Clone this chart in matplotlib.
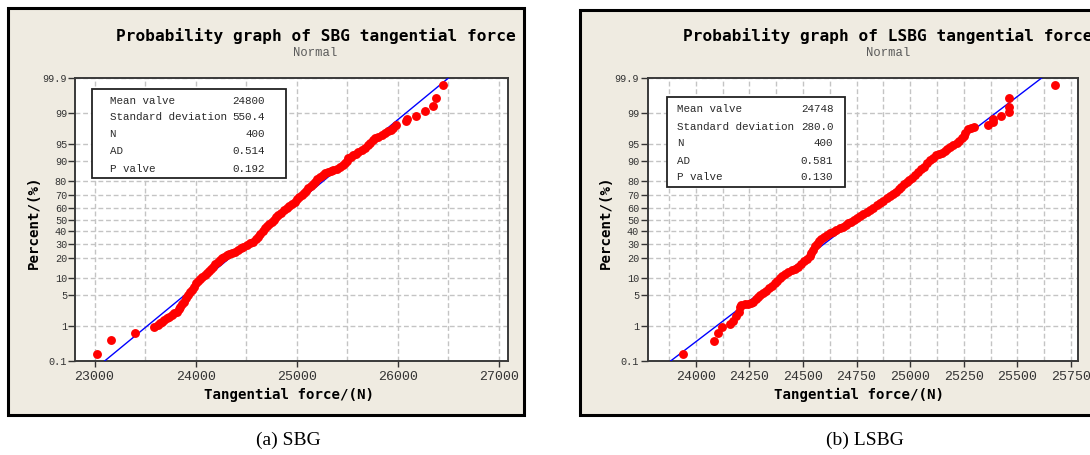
import numpy as np
import matplotlib
matplotlib.use('Agg')
import matplotlib.pyplot as plt
from matplotlib.patches import Rectangle
from matplotlib.ticker import MultipleLocator, FixedLocator, FixedFormatter
from statistics import NormalDist

plt.rcParams['font.family'] = 'Liberation Mono'

# Data (force in N, cumulative percent)
sbg_force = [23023, 23161, 23402, 23584, 23627, 23646, 23666, 23691, 23716, 23740,
             23765, 23790, 23815, 23831, 23847, 23864, 23881, 23902, 23923, 23943,
             23963, 23983, 24003, 24024, 24045, 24066, 24088, 24109, 24131, 24152,
             24174, 24196, 24218, 24240, 24262, 24285, 24307, 24334, 24362, 24389,
             24416, 24444, 24471, 24504, 24537, 24570, 24595, 24619, 24641, 24664,
             24686, 24708, 24730, 24752, 24774, 24795, 24817, 24845, 24872, 24900,
             24927, 24955, 24982, 25004, 25027, 25049, 25071, 25092, 25114, 25136,
             25159, 25181, 25205, 25230, 25255, 25280, 25307, 25335, 25362, 25395,
             25428, 25453, 25478, 25494, 25510, 25535, 25560, 25585, 25609, 25642,
             25675, 25700, 25725, 25750, 25774, 25808, 25841, 25874, 25906, 25928,
             25950, 25982, 26081, 26094, 26177, 26269, 26345, 26378, 26450]
sbg_percent = [0.17, 0.43, 0.67, 0.93, 1.06, 1.17, 1.28, 1.41, 1.55, 1.70,
               1.85, 2.03, 2.21, 2.51, 2.85, 3.22, 3.63, 4.27, 4.97, 5.55,
               6.19, 7.1, 8.18, 8.85, 9.58, 10.35, 11.15, 12.0, 13.0, 14.0,
               15.1, 16.3, 17.5, 18.8, 19.8, 20.8, 21.9, 22.6, 23.3, 24.1,
               25.2, 26.4, 27.6, 28.8, 30.1, 31.4, 33.4, 35.4, 37.7, 40.0,
               42.4, 44.3, 46.2, 48.1, 50.0, 52.0, 53.9, 55.8, 57.8, 59.7,
               61.5, 63.3, 65.1, 66.9, 68.6, 70.4, 72.0, 73.6, 75.2, 76.7,
               78.1, 79.5, 81.0, 82.5, 83.5, 84.4, 85.0, 85.5, 86.0, 86.7,
               87.3, 88.2, 89.0, 90.0, 90.9, 91.5, 92.0, 92.5, 93.0, 93.6,
               94.1, 94.7, 95.2, 95.8, 96.3, 96.5, 96.7, 97.0, 97.3, 97.5,
               97.75, 98.05, 98.4, 98.57, 98.83, 99.11, 99.34, 99.59, 99.83]

lsbg_force = [23941, 24084, 24104, 24121, 24161, 24176, 24190, 24201, 24208, 24211,
              24228, 24244, 24256, 24267, 24279, 24291, 24302, 24314, 24328, 24342,
              24356, 24370, 24381, 24393, 24404, 24416, 24432, 24449, 24463, 24477,
              24491, 24505, 24518, 24531, 24539, 24547, 24557, 24566, 24575, 24584,
              24598, 24612, 24626, 24640, 24656, 24673, 24686, 24699, 24712, 24725,
              24738, 24751, 24767, 24782, 24798, 24813, 24829, 24844, 24860, 24875,
              24891, 24905, 24920, 24934, 24947, 24959, 24972, 24984, 24997, 25009,
              25023, 25037, 25051, 25065, 25079, 25093, 25107, 25121, 25135, 25149,
              25161, 25174, 25186, 25202, 25217, 25229, 25241, 25249, 25256, 25271,
              25285, 25298, 25365, 25385, 25388, 25423, 25461, 25461, 25460, 25676]
lsbg_percent = [0.17, 0.40, 0.65, 0.92, 1.12, 1.37, 1.76, 2.21, 2.81, 3.10,
                3.2, 3.3, 3.45, 3.63, 4.05, 4.53, 5.0, 5.50, 6.05, 6.65,
                7.4, 8.29, 9.05, 9.89, 10.7, 11.5, 12.4, 13.3, 14.2, 15.2,
                16.5, 18.0, 19.6, 21.3, 23.4, 25.6, 27.8, 30.0, 32.0, 33.9,
                35.3, 36.8, 38.0, 39.2, 40.8, 42.4, 43.8, 45.3, 46.7, 48.1,
                49.6, 51.0, 52.7, 54.4, 56.1, 58.2, 60.3, 62.4, 64.2, 66.0,
                67.7, 69.5, 71.2, 72.9, 74.6, 76.2, 77.8, 79.3, 80.7, 82.0,
                83.6, 85.0, 86.4, 87.6, 89.0, 90.3, 91.2, 92.0, 92.4, 92.8,
                93.3, 93.8, 94.3, 94.8, 95.2, 95.7, 96.2, 96.6, 97.0, 97.6,
                97.75, 97.86, 98.05, 98.36, 98.59, 98.83, 99.07, 99.31, 99.59, 99.83]

stat_names = ['Mean valve', 'Standard deviation', 'N', 'AD', 'P valve']
sbg_stat_values = ['24800', '550.4', '400', '0.514', '0.192']
lsbg_stat_values = ['24748', '280.0', '400', '0.581', '0.130']
sbg_mean, sbg_sd = 24800, 550.4
lsbg_mean, lsbg_sd = 24748, 280.0

percent_ticks = [0.1, 1, 5, 10, 20, 30, 40, 50, 60, 70, 80, 90, 95, 99, 99.9]
percent_labels = ['0.1', '1', '5', '10', '20', '30', '40', '50', '60', '70',
                  '80', '90', '95', '99', '99.9']

# normal probability scale
nd = NormalDist()
_ppf = np.vectorize(nd.inv_cdf, otypes=[float])
_cdf = np.vectorize(nd.cdf, otypes=[float])


def forward(p):
    p = np.clip(np.asarray(p, dtype=float) / 100.0, 1e-9, 1 - 1e-9)
    return _ppf(p)


def inverse(z):
    return _cdf(np.asarray(z, dtype=float)) * 100.0


W, H = 1090, 455
fig = plt.figure(figsize=(W / 100, H / 100), dpi=100)
fig.patch.set_facecolor('white')


def fx(x):
    return x / W


def fy(y):
    return 1 - y / H


def draw_panel(box, axbox, xlim, major, minor, force, percent, mean, sd,
               title, title_x, stat_values, statbox, label_x, value_x, rows,
               ylabel_x, xlabel_x, caption, caption_x):
    # beige panel with black frame
    bx0, by0, bx1, by1 = box
    fig.add_artist(Rectangle((fx(bx0), fy(by1)), (bx1 - bx0) / W, (by1 - by0) / H,
                             transform=fig.transFigure, facecolor='#efebe1',
                             edgecolor='black', linewidth=2.2, zorder=-5))

    ax0, ay0, ax1, ay1 = axbox
    ax = fig.add_axes([fx(ax0), fy(ay1), (ax1 - ax0) / W, (ay1 - ay0) / H])
    ax.set_facecolor('white')
    ax.set_yscale('function', functions=(forward, inverse))
    ax.set_ylim(0.1, 99.9)
    ax.set_xlim(*xlim)

    ax.yaxis.set_major_locator(FixedLocator(percent_ticks))
    ax.yaxis.set_major_formatter(FixedFormatter(percent_labels))
    ax.yaxis.set_minor_locator(FixedLocator([]))
    ax.xaxis.set_major_locator(MultipleLocator(major))
    ax.xaxis.set_minor_locator(MultipleLocator(minor))

    grid_kw = dict(color='#c4c4c4', linewidth=1.0, linestyle=(0, (3.5, 2)))
    ax.grid(True, axis='x', which='both', **grid_kw)
    ax.grid(True, axis='y', which='major', **grid_kw)
    ax.set_axisbelow(True)

    ax.tick_params(axis='y', which='major', length=5, width=1, color='#333333',
                   labelsize=7.3, labelcolor='#333333', pad=1)
    ax.tick_params(axis='x', which='major', length=4, width=1, color='#333333',
                   labelsize=9.5, labelcolor='#333333', pad=3)
    ax.tick_params(axis='x', which='minor', length=0)
    for sp in ax.spines.values():
        sp.set_color('#3a3a3a')
        sp.set_linewidth(1.4)

    # fitted normal line
    line_pct = np.array([0.1, 99.9])
    line_force = mean + sd * forward(line_pct)
    ax.plot(line_force, line_pct, color='#0000ff', linewidth=1.0, zorder=3)
    ax.plot(force, percent, 'o', color='#ff0000', markersize=6.4,
            markeredgewidth=0, zorder=4)

    # statistics box
    sx0, sy0, sx1, sy1 = statbox
    fig.add_artist(Rectangle((fx(sx0), fy(sy1)), (sx1 - sx0) / W, (sy1 - sy0) / H,
                             transform=fig.transFigure, facecolor='white',
                             edgecolor='#222222', linewidth=1.3, zorder=5))
    for name, val, ry in zip(stat_names, stat_values, rows):
        fig.text(fx(label_x), fy(ry), name, fontsize=7.8, color='#2a2a2a',
                 ha='left', va='center', zorder=6)
        fig.text(fx(value_x), fy(ry), val, fontsize=7.8, color='#2a2a2a',
                 ha='right', va='center', zorder=6)

    fig.text(fx(title_x), fy(36), title, fontsize=11.6, fontweight='bold',
             family='DejaVu Sans Mono', ha='center', va='center')
    fig.text(fx(title_x), fy(53.5), 'Normal', fontsize=8.8, color='#5a5a5a',
             ha='center', va='center')
    fig.text(fx(ylabel_x), fy(222.5), 'Percent/(%)', fontsize=10.2,
             fontweight='bold', family='DejaVu Sans Mono', rotation=90,
             ha='center', va='center')
    fig.text(fx(xlabel_x), fy(395), 'Tangential force/(N)', fontsize=10.2,
             fontweight='bold', family='DejaVu Sans Mono', ha='center', va='center')
    fig.text(fx(caption_x), fy(440), caption, fontsize=14,
             family='Liberation Serif', ha='center', va='center')


draw_panel(box=(7.5, 7.5, 523.5, 415), axbox=(75.4, 78, 507.5, 361),
           xlim=(22810, 27085), major=1000, minor=500,
           force=sbg_force, percent=sbg_percent, mean=sbg_mean, sd=sbg_sd,
           title='Probability graph of SBG tangential force', title_x=315.5,
           stat_values=sbg_stat_values, statbox=(92, 89, 286, 178),
           label_x=109.5, value_x=264.5,
           rows=[101.5, 117.3, 134.3, 151.5, 168.5],
           ylabel_x=33.7, xlabel_x=288.5, caption='(a) SBG', caption_x=288)

draw_panel(box=(579.8, 9.5, 1105, 415), axbox=(647.5, 78, 1077.8, 361),
           xlim=(23775, 25782), major=250, minor=125,
           force=lsbg_force, percent=lsbg_percent, mean=lsbg_mean, sd=lsbg_sd,
           title='Probability graph of LSBG tangential force', title_x=888,
           stat_values=lsbg_stat_values, statbox=(667.3, 96.7, 845, 186.5),
           label_x=676.7, value_x=833.3,
           rows=[109.3, 126.7, 143.3, 160.7, 177.3],
           ylabel_x=605.8, xlabel_x=859.5, caption='(b) LSBG', caption_x=865)

fig.savefig('out.png', dpi=100)
